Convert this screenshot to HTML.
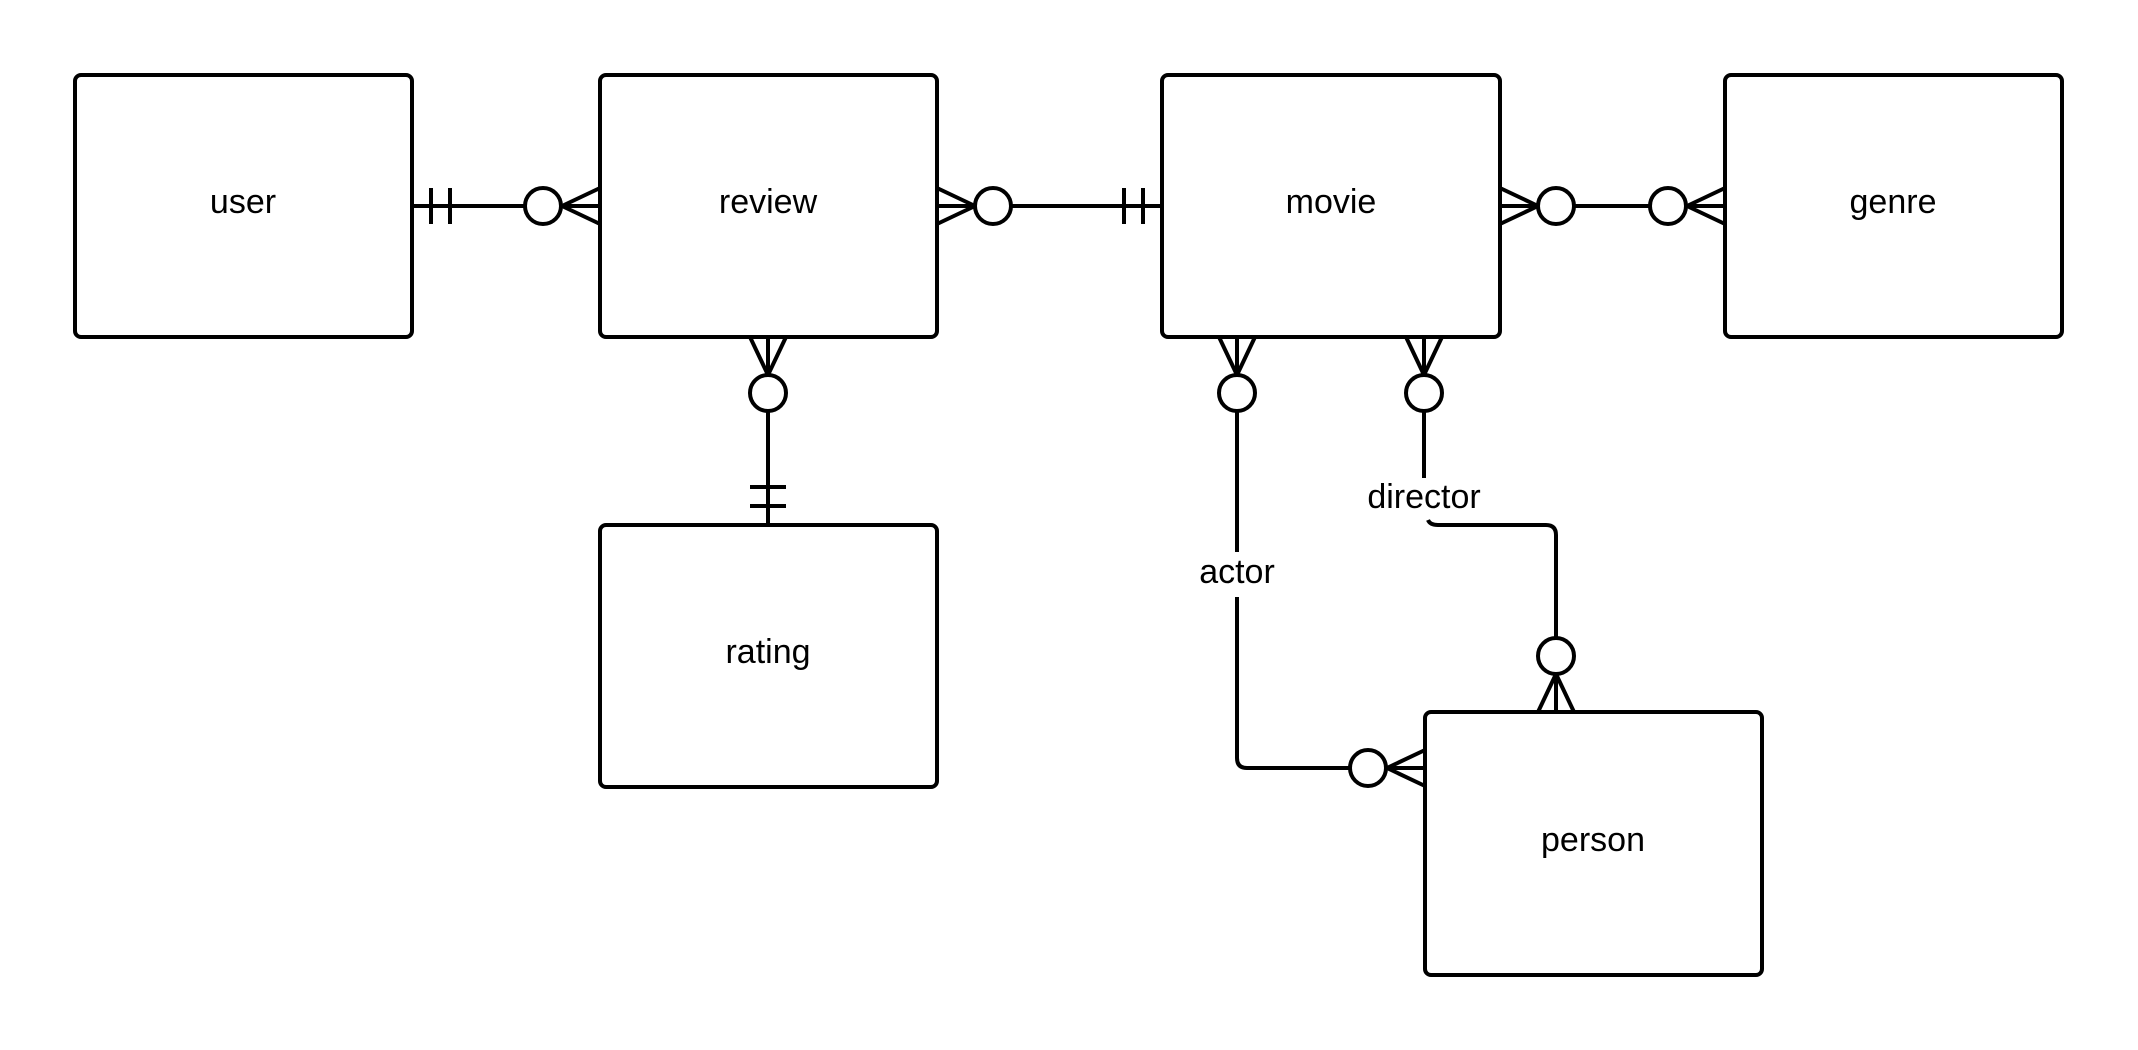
<!DOCTYPE html>
<html><head><meta charset="utf-8"><style>
html,body{margin:0;padding:0;background:#fff;width:2138px;height:1050px;overflow:hidden}
svg{display:block}
text{font-family:"Liberation Sans",sans-serif;font-size:34px;fill:#000;text-anchor:middle;dominant-baseline:middle}
</style></head><body>
<svg width="2138" height="1050" viewBox="0 0 2138 1050">
<g fill="#fff" stroke="#000" stroke-width="4">
<rect x="75" y="75" width="337" height="262" rx="6"/>
<rect x="600" y="75" width="337" height="262" rx="6"/>
<rect x="1162" y="75" width="338" height="262" rx="6"/>
<rect x="1725" y="75" width="337" height="262" rx="6"/>
<rect x="600" y="525" width="337" height="262" rx="6"/>
<rect x="1425" y="712" width="337" height="263" rx="6"/>
</g>
<g>
<text x="243" y="204">user</text>
<text x="768" y="204">review</text>
<text x="1331" y="204">movie</text>
<text x="1893" y="204">genre</text>
<text x="768" y="654">rating</text>
<text x="1593" y="842">person</text>
<text x="1237" y="574">actor</text>
<text x="1424" y="499">director</text>
</g>
<g fill="none" stroke="#000" stroke-width="4">
<g>
<path d="M412 206H525M561 206H600M431 188V224M450 188V224M562 206L600 188M562 206L600 224"/>
<circle cx="543" cy="206" r="18"/>
</g>
<g>
<path d="M937 206H975M1011 206H1162M1124 188V224M1143 188V224M975 206L937 188M975 206L937 224"/>
<circle cx="993" cy="206" r="18"/>
</g>
<g>
<path d="M1500 206H1538M1574 206H1650M1686 206H1725M1538 206L1500 188M1538 206L1500 224M1687 206L1725 188M1687 206L1725 224"/>
<circle cx="1556" cy="206" r="18"/>
<circle cx="1668" cy="206" r="18"/>
</g>
<g>
<path d="M768 337V375M768 411V525M750 487H786M750 506H786M768 375L750 337M768 375L786 337"/>
<circle cx="768" cy="393" r="18"/>
</g>
<g>
<path d="M1237 337V375M1237 411V552M1237 597V758Q1237 768 1247 768H1350M1386 768H1425M1237 375L1219 337M1237 375L1255 337M1387 768L1425 750M1387 768L1425 786"/>
<circle cx="1237" cy="393" r="18"/>
<circle cx="1368" cy="768" r="18"/>
</g>
<g>
<path d="M1424 337V375M1424 411V478M1428 520Q1430 525 1438 525H1546Q1556 525 1556 535V638M1556 674V712M1424 375L1406 337M1424 375L1442 337M1556 674L1538 712M1556 674L1574 712"/>
<circle cx="1424" cy="393" r="18"/>
<circle cx="1556" cy="656" r="18"/>
</g>
</g>
</svg>
</body></html>
